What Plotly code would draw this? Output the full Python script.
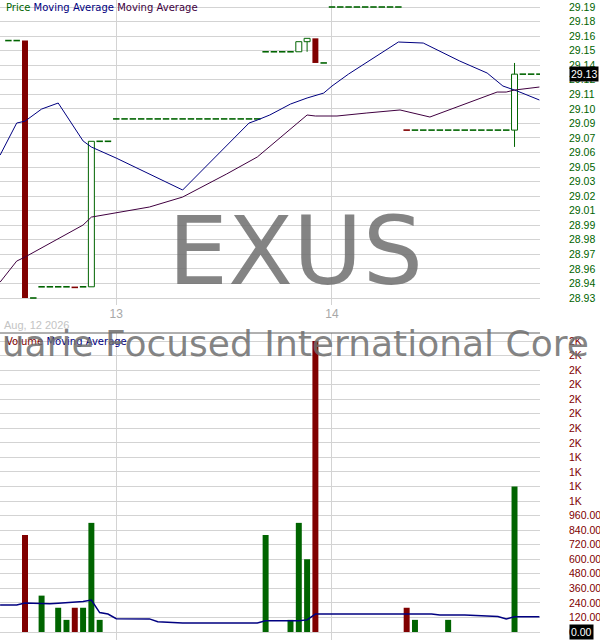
import plotly.graph_objects as go

# ---------------- data ----------------
# 15-minute slots: 0..10 = Aug 12 afternoon, 11..36 = Aug 13, 37..62 = Aug 14
slots = list(range(-2, 63))
open_ = [29.16, 29.16, 29.16, 28.93, 28.94, 28.94, 28.94, 28.94, 28.9395, 28.94, 28.94, 29.07, 29.07,
         29.09, 29.09, 29.09, 29.09, 29.09, 29.09, 29.09, 29.09, 29.09, 29.09, 29.09, 29.09, 29.09, 29.09,
         29.09, 29.09, 29.09, 29.09,
         29.15, 29.15, 29.15, 29.15,
         29.15, 29.159, 29.162, 29.14,
         29.19, 29.19, 29.19, 29.19, 29.19, 29.19, 29.19, 29.19, 29.19,
         29.08, 29.08, 29.08, 29.08, 29.08, 29.08, 29.08, 29.08, 29.08, 29.08, 29.08, 29.08, 29.08,
         29.08,
         29.13, 29.13, 29.13]
close_ = [29.16, 29.16, 28.93, 28.93, 28.94, 28.94, 28.94, 28.94, 28.9395, 28.94, 29.07, 29.07, 29.07,
          29.09, 29.09, 29.09, 29.09, 29.09, 29.09, 29.09, 29.09, 29.09, 29.09, 29.09, 29.09, 29.09, 29.09,
          29.09, 29.09, 29.09, 29.09,
          29.15, 29.15, 29.15, 29.15,
          29.159, 29.162, 29.14, 29.14,
          29.19, 29.19, 29.19, 29.19, 29.19, 29.19, 29.19, 29.19, 29.19,
          29.08, 29.08, 29.08, 29.08, 29.08, 29.08, 29.08, 29.08, 29.08, 29.08, 29.08, 29.08, 29.08,
          29.13,
          29.13, 29.13, 29.13]
high_ = [29.16, 29.16, 29.16, 28.93, 28.94, 28.94, 28.94, 28.94, 28.9395, 28.94, 29.07, 29.07, 29.07,
         29.09, 29.09, 29.09, 29.09, 29.09, 29.09, 29.09, 29.09, 29.09, 29.09, 29.09, 29.09, 29.09, 29.09,
         29.09, 29.09, 29.09, 29.09,
         29.15, 29.15, 29.15, 29.15,
         29.159, 29.162, 29.162, 29.14,
         29.19, 29.19, 29.19, 29.19, 29.19, 29.19, 29.19, 29.19, 29.19,
         29.08, 29.08, 29.08, 29.08, 29.08, 29.08, 29.08, 29.08, 29.08, 29.08, 29.08, 29.08, 29.08,
         29.14,
         29.13, 29.13, 29.13]
low_ = [29.16, 29.16, 28.93, 28.93, 28.94, 28.94, 28.94, 28.94, 28.9395, 28.94, 28.94, 29.07, 29.07,
        29.09, 29.09, 29.09, 29.09, 29.09, 29.09, 29.09, 29.09, 29.09, 29.09, 29.09, 29.09, 29.09, 29.09,
        29.09, 29.09, 29.09, 29.09,
        29.15, 29.15, 29.15, 29.15,
        29.15, 29.15, 29.14, 29.14,
        29.19, 29.19, 29.19, 29.19, 29.19, 29.19, 29.19, 29.19, 29.19,
        29.08, 29.08, 29.08, 29.08, 29.08, 29.08, 29.08, 29.08, 29.08, 29.08, 29.08, 29.08, 29.08,
        29.065,
        29.13, 29.13, 29.13]
volume = [0, 0, 800, 0, 300, 0, 200, 100, 200, 200, 900, 100, 0,
          0, 0, 0, 0, 0, 0, 0, 0, 0, 0, 0, 0, 0, 0,
          0, 0, 0, 0,
          800, 0, 0, 100,
          900, 600, 2400, 0,
          0, 0, 0, 0, 0, 0, 0, 0, 0,
          200, 100, 0, 0, 0, 100, 0, 0, 0, 0, 0, 0, 0,
          1200,
          0, 0, 0]

# moving averages (vertices)
ma1_x = [-3, -1, 0, 2, 4, 7, 8, 11, 19, 23.5, 27, 28, 29.5, 32, 34, 36, 37, 39, 42, 45, 48, 52.4, 55.7, 57.6, 59.3, 62]
ma1_y = [29.0577, 29.0863, 29.088, 29.0988, 29.1042, 29.0703, 29.0649, 29.055, 29.0265, 29.0604, 29.0863,
         29.089, 29.0935, 29.1033, 29.1087, 29.1131, 29.1194, 29.1301, 29.1444, 29.1587, 29.1578, 29.1417,
         29.131, 29.1194, 29.115, 29.1069]
ma2_x = [-3, -1, 0, 7, 8, 11, 15, 19, 24.3, 28, 31, 34, 35, 37.6, 41.2, 45.2, 48.8, 53.3, 56.9, 58, 59, 62]
ma2_y = [28.9442, 28.963, 28.9666, 28.9952, 29.0023, 29.0059, 29.0113, 29.0202, 29.0408, 29.056, 29.0747,
         29.0935, 29.0926, 29.0926, 29.0953, 29.098, 29.0917, 29.1042, 29.114, 29.114, 29.1158, 29.1185]
vma_x = [-3, -1, 0, 3, 4, 6, 7, 8, 9, 10, 11, 15, 16, 19, 28, 29, 33, 34, 35, 49, 50, 53, 56, 57, 58, 59, 62]
vma_y = [222, 222, 240, 232, 238, 245, 252, 264, 160, 148, 110, 108, 84, 75, 75, 92, 92, 100, 148, 148,
         140, 140, 132, 128, 107, 126, 126]

price_ticks = [28.93, 28.943, 28.956, 28.969, 28.982, 28.995, 29.008, 29.021, 29.034, 29.047, 29.06,
               29.073, 29.086, 29.099, 29.112, 29.125, 29.138, 29.151, 29.164, 29.177, 29.19]
price_labels = ["28.93", "28.94", "28.96", "28.97", "28.98", "28.99", "29.01", "29.02", "29.03", "29.05",
                "29.06", "29.07", "29.09", "29.10", "29.11", "29.12", "29.14", "29.15", "29.16", "29.18", "29.19"]
vol_ticks = [0, 120, 240, 360, 480, 600, 720, 840, 960, 1080, 1200, 1320, 1440, 1560, 1680, 1800, 1920,
             2040, 2160, 2280, 2400]
vol_labels = ["0.00", "120.00", "240.00", "360.00", "480.00", "600.00", "720.00", "840.00", "960.00",
              "1K", "1K", "1K", "1K", "2K", "2K", "2K", "2K", "2K", "2K", "2K", "2K"]
day_ticks = [11, 37]
day_labels = ["13", "14"]
last_price = "29.13"
ticker = "EXUS"
fund_name = "Macquarie Focused International Core Equity ETF"
date_label = "Aug, 12 2026"

for arr in (open_, close_, high_, low_, volume):
    assert len(arr) == len(slots), len(arr)

# ---------------- styling ----------------
GREEN = "#006400"
RED = "#800000"
BLUE = "#000080"
PURPLE = "#400040"
GRID = "#d3d3d3"
W = 0.72

up = []
for i in range(len(slots)):
    prev = close_[i - 1] if i > 0 else open_[i]
    up.append(close_[i] >= prev)

fig = go.Figure()

# candle bodies (non-flat)
for is_up in (True, False):
    bx, bb, bh = [], [], []
    for i, s in enumerate(slots):
        if open_[i] != close_[i] and up[i] == is_up:
            bx.append(s)
            bb.append(min(open_[i], close_[i]))
            bh.append(abs(close_[i] - open_[i]))
    fig.add_trace(go.Bar(
        x=bx, y=bh, base=bb, width=W, xaxis="x", yaxis="y",
        marker=dict(color="white" if is_up else RED,
                    line=dict(color=GREEN if is_up else RED, width=1 if is_up else 0)),
        hoverinfo="skip"))

# volume bars
for is_up in (True, False):
    vx = [s for i, s in enumerate(slots) if volume[i] > 0 and up[i] == is_up]
    vy = [volume[i] for i, s in enumerate(slots) if volume[i] > 0 and up[i] == is_up]
    fig.add_trace(go.Bar(x=vx, y=vy, width=W, xaxis="x2", yaxis="y2",
                         marker=dict(color=GREEN if is_up else RED, line=dict(width=0)),
                         hoverinfo="skip"))

# wicks
wx, wy = [], []
for i, s in enumerate(slots):
    if open_[i] != close_[i]:
        lo_b, hi_b = min(open_[i], close_[i]), max(open_[i], close_[i])
        if low_[i] < lo_b:
            wx += [s, s, None]; wy += [low_[i], lo_b, None]
        if high_[i] > hi_b:
            wx += [s, s, None]; wy += [hi_b, high_[i], None]
fig.add_trace(go.Scatter(x=wx, y=wy, mode="lines", line=dict(color=GREEN, width=1),
                         xaxis="x", yaxis="y", hoverinfo="skip"))

# flat dashes
for is_up in (True, False):
    fx = [s for i, s in enumerate(slots) if open_[i] == close_[i] and up[i] == is_up]
    fy = [close_[i] for i, s in enumerate(slots) if open_[i] == close_[i] and up[i] == is_up]
    fig.add_trace(go.Scatter(x=fx, y=fy, mode="markers", xaxis="x", yaxis="y",
                             marker=dict(symbol="line-ew", size=4.6,
                                         line=dict(color=GREEN if is_up else RED, width=1.6)),
                             hoverinfo="skip"))

# moving averages
fig.add_trace(go.Scatter(x=ma1_x, y=ma1_y, mode="lines", line=dict(color=BLUE, width=1),
                         xaxis="x", yaxis="y", hoverinfo="skip"))
fig.add_trace(go.Scatter(x=ma2_x, y=ma2_y, mode="lines", line=dict(color=PURPLE, width=1),
                         xaxis="x", yaxis="y", hoverinfo="skip"))
fig.add_trace(go.Scatter(x=vma_x, y=vma_y, mode="lines", line=dict(color=BLUE, width=1.5),
                         xaxis="x2", yaxis="y2", hoverinfo="skip"))

XR = [-3.013, 62.07]
tickfont_r = dict(family="Liberation Sans, Arial", size=10.5)

fig.update_layout(
    width=600, height=640, margin=dict(l=0, r=0, t=0, b=0),
    paper_bgcolor="white", plot_bgcolor="white", showlegend=False, barmode="overlay",
    xaxis=dict(domain=[0, 0.9], range=XR, anchor="y", tickmode="array", tickvals=day_ticks,
               ticktext=day_labels, showgrid=True, gridcolor=GRID, gridwidth=1, zeroline=False,
               ticks="", showline=False, automargin=False,
               tickfont=dict(family="Liberation Sans, Arial", size=12, color="#a8a8a8")),
    xaxis2=dict(domain=[0, 0.9], range=XR, anchor="y2", matches="x", tickmode="array",
                tickvals=day_ticks, showticklabels=False, showgrid=True, gridcolor=GRID,
                zeroline=False, ticks="", automargin=False),
    yaxis=dict(domain=[1 - 305 / 640, 1], range=[28.92375, 29.19625], side="right", anchor="x",
               tickmode="array", tickvals=price_ticks, ticktext=price_labels, showgrid=True,
               gridcolor=GRID, zeroline=False, ticks="", ticklabelstandoff=28, automargin=False,
               tickfont=dict(color=GREEN, **tickfont_r)),
    yaxis2=dict(domain=[0, 307 / 640], range=[-66, 2466], side="right", anchor="x2",
                tickmode="array", tickvals=vol_ticks, ticktext=vol_labels, showgrid=True,
                gridcolor=GRID, zeroline=False, ticks="", ticklabelstandoff=28, automargin=False,
                tickfont=dict(color=RED, **tickfont_r)),
)

fig.add_shape(type="line", xref="paper", yref="paper", x0=0, x1=0.9, y0=307 / 640, y1=307 / 640,
              line=dict(color="#606060", width=1))

leg_font = dict(family="DejaVu Sans, Verdana", size=10)
fig.add_annotation(xref="paper", yref="paper", x=4 / 600, y=1 - 7 / 640, xanchor="left", yanchor="middle",
                   showarrow=False, font=leg_font,
                   text=f"<span style='color:{GREEN}'>Price</span> <span style='color:{BLUE}'>Moving Average</span>"
                        f" <span style='color:{PURPLE}'>Moving Average</span>")
fig.add_annotation(xref="paper", yref="paper", x=4 / 600, y=1 - 341 / 640, xanchor="left", yanchor="middle",
                   showarrow=False, font=leg_font,
                   text=f"<span style='color:{RED}'>Volume</span> <span style='color:{BLUE}'>Moving Average</span>")
fig.add_annotation(xref="paper", yref="paper", x=2 / 600, y=1 - 325 / 640, xanchor="left", yanchor="middle",
                   showarrow=False, text=date_label,
                   font=dict(family="Liberation Sans, Arial", size=11, color="#c4c4c4"))
fig.add_annotation(xref="paper", yref="paper", x=295 / 600, y=1 - 251 / 640, xanchor="center",
                   yanchor="middle", showarrow=False, text=ticker,
                   font=dict(family="DejaVu Sans", size=95, color="rgba(110,110,110,0.85)"))
fig.add_annotation(xref="paper", yref="paper", x=-96 / 600, y=1 - 343 / 640, xanchor="left",
                   yanchor="middle", showarrow=False, text=fund_name,
                   font=dict(family="DejaVu Sans", size=36, color="rgba(110,110,110,0.85)"))
fig.add_annotation(xref="paper", yref="y", x=569 / 600, y=float(last_price), xanchor="left",
                   yanchor="middle", showarrow=False, text=last_price, bgcolor="black", borderpad=1,
                   font=dict(color="white", **tickfont_r))
fig.add_annotation(xref="paper", yref="y2", x=569 / 600, y=0, xanchor="left",
                   yanchor="middle", showarrow=False, text=vol_labels[0], bgcolor="black", borderpad=1,
                   font=dict(color="white", **tickfont_r))

fig.write_html("out.html",
               config={"displayModeBar": False, "staticPlot": True},
               post_script="document.body.style.margin='0';document.body.style.padding='0';"
                           "document.documentElement.style.overflow='hidden';")
